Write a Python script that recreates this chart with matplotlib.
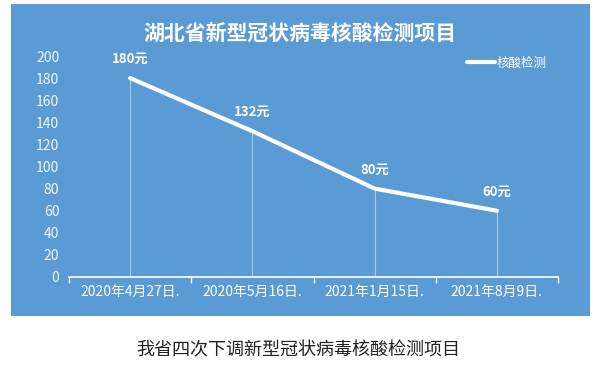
import matplotlib.pyplot as plt
from matplotlib.patches import Rectangle
import numpy as np

plt.rcParams['font.family'] = ['Noto Sans CJK SC', 'DejaVu Sans']

dates = ['2020年4月27日.', '2020年5月16日.', '2021年1月15日.', '2021年8月9日.']
prices = [180, 132, 80, 60]
labels = ['180元', '132元', '80元', '60元']
yticks = [0, 20, 40, 60, 80, 100, 120, 140, 160, 180, 200]

blue = '#5B9BD5'
W, H = 602, 366

fig = plt.figure(figsize=(W / 100, H / 100), dpi=100)
fig.patch.set_facecolor('white')

# blue background panel
fig.patches.append(Rectangle((11 / W, 1 - 316 / H), (590 - 11) / W, (316 - 4) / H,
                             transform=fig.transFigure, facecolor=blue,
                             edgecolor='none', zorder=-1))

ax = fig.add_axes([69 / W, (H - 277) / H, (558 - 69) / W, (277 - 56) / H])
ax.set_facecolor('none')
ax.set_zorder(2)

x = np.arange(len(dates))
ax.vlines(x, 0, prices, colors='white', alpha=0.45, lw=0.8)
ax.plot(x, prices, color='white', lw=3, solid_capstyle='round', label='核酸检测')
for xi, p, t in zip(x, prices, labels):
    ax.text(xi, p + 11, t, ha='center', va='bottom', color='white',
            fontsize=9.5, fontweight='bold')

ax.set_xlim(-0.5, len(dates) - 0.5)
ax.set_ylim(0, 200)
ax.set_yticks(yticks)
ax.tick_params(axis='y', length=0, colors='#F2F6FB', labelsize=10, pad=7)

# category boundaries carry tick marks, labels sit in the middle
ax.set_xticks(np.arange(-0.5, len(dates)), minor=False)
ax.set_xticklabels([''] * (len(dates) + 1))
ax.set_xticks(x, minor=True)
ax.set_xticklabels(dates, minor=True)
ax.tick_params(axis='x', which='major', direction='out', length=4, color='white', width=1)
ax.tick_params(axis='x', which='minor', length=0, colors='white', labelsize=10, pad=6)

for s in ['top', 'right', 'left']:
    ax.spines[s].set_visible(False)
ax.spines['bottom'].set_color('white')
ax.spines['bottom'].set_linewidth(1.2)

leg = ax.legend(loc='center left', bbox_to_anchor=(0.814, 0.968), frameon=False,
                borderaxespad=0, borderpad=0, handlelength=2.2,
                handletextpad=0.2, fontsize=9)
for t in leg.get_texts():
    t.set_color('white')

fig.text(300 / W, 1 - 33 / H, '湖北省新型冠状病毒核酸检测项目', ha='center', va='center',
         color='white', fontsize=15, fontweight='bold', zorder=3)
fig.text(298 / W, 1 - 350 / H, '我省四次下调新型冠状病毒核酸检测项目', ha='center', va='center',
         color='#222222', fontsize=13, zorder=3)

fig.savefig('out.png', dpi=100)
